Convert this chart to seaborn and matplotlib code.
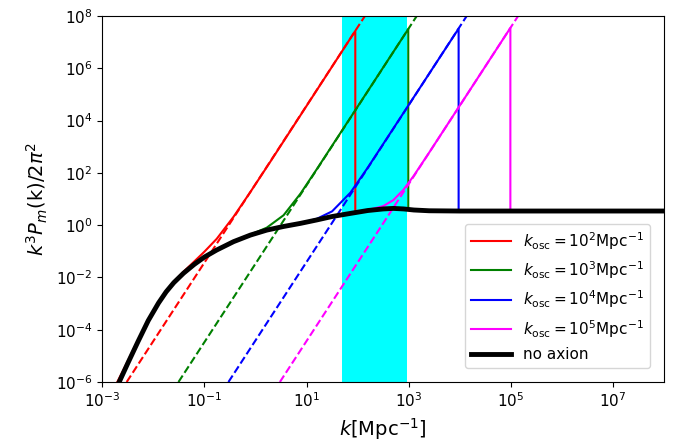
import matplotlib
matplotlib.use("Agg")
import matplotlib.pyplot as plt
import seaborn as sns

# wavenumbers [Mpc^-1] and dimensionless power for the standard (no axion) case
k_base = [1.78e-3, 2.14e-3, 3.16e-3, 5.01e-3, 7.94e-3, 1.26e-2, 1.78e-2, 2.51e-2,
          3.89e-2, 6.31e-2, 0.1, 0.174, 0.372, 0.794, 1.66, 3.55, 7.59, 15.8, 31.6,
          72.4, 158, 316, 501, 794, 1259, 2512, 1.0e4, 1.0e8]
p_base = [4.68e-7, 1.0e-6, 5.25e-6, 3.55e-5, 2.24e-4, 1.05e-3, 2.82e-3, 6.31e-3,
          1.45e-2, 3.16e-2, 6.03e-2, 0.112, 0.234, 0.417, 0.646, 0.891, 1.17, 1.58,
          2.14, 2.82, 3.63, 4.17, 4.37, 4.17, 3.80, 3.55, 3.47, 3.47]

# enhanced spectra for each oscillation scale (solid curves)
k_red = [1.78e-3, 3.16e-3, 5.01e-3, 7.94e-3, 1.26e-2, 1.78e-2, 2.51e-2, 3.89e-2,
         6.31e-2, 0.1, 0.174, 0.372, 0.794, 2.0, 90, 90]
p_red = [6.8e-7, 6.4e-6, 4.0e-5, 2.42e-4, 1.12e-3, 3.02e-3, 6.9e-3, 1.66e-2,
         4.07e-2, 9.7e-2, 0.30, 2.1, 18.6, 288, 2.7e7, 3.0]

k_green = k_base[:12] + [0.372, 0.794, 1.66, 3.55, 7.59, 15.8, 980, 980]
p_green = p_base[:12] + [0.236, 0.434, 0.80, 2.4, 16, 137, 3.16e7, 4.0]

k_blue = k_base[:16] + [7.59, 15.8, 31.6, 72.4, 158, 9500, 9500]
p_blue = p_base[:16] + [1.19, 1.74, 3.37, 17.6, 159, 3.3e7, 3.47]

k_mag = k_base[:20] + [158, 316, 501, 794, 1259, 2512, 9.8e4, 9.8e4]
p_mag = p_base[:20] + [3.78, 5.34, 9.05, 22.8, 78, 593, 3.5e7, 3.47]

# pure k^3 growth branches (dashed)
p_dash = [1.0e-6, 1.0e8]
k_red_dash = [3.0e-3, 139]
k_green_dash = [3.1e-2, 1439]
k_blue_dash = [0.295, 1.369e4]
k_mag_dash = [3.0, 1.39e5]

# k range where the band is shaded
band = (50, 930)

labels = [r"$k_{\rm osc}=10^2{\rm Mpc}^{-1}$",
          r"$k_{\rm osc}=10^3{\rm Mpc}^{-1}$",
          r"$k_{\rm osc}=10^4{\rm Mpc}^{-1}$",
          r"$k_{\rm osc}=10^5{\rm Mpc}^{-1}$"]
colors = ["red", "green", "blue", "magenta"]

fig = plt.figure(figsize=(6.83, 4.42), dpi=100)
ax = fig.add_axes([0.1498, 0.1357, 0.8224, 0.8281])
ax.set_xscale("log")
ax.set_yscale("log")

ax.axvspan(*band, color="cyan", lw=0, zorder=0)

solid = [(k_red, p_red), (k_green, p_green), (k_blue, p_blue), (k_mag, p_mag)]
dashed = [k_red_dash, k_green_dash, k_blue_dash, k_mag_dash]

for (ks, ps), kd, c, lab in zip(solid, dashed, colors, labels):
    sns.lineplot(x=ks, y=ps, color=c, lw=1.5, sort=False, estimator=None,
                 label=lab, ax=ax, zorder=2)
    sns.lineplot(x=kd, y=p_dash, color=c, lw=1.5, linestyle="--", sort=False,
                 estimator=None, ax=ax, zorder=2)

sns.lineplot(x=k_base, y=p_base, color="black", lw=3.5, sort=False, estimator=None,
             label="no axion", ax=ax, zorder=3)

ax.set_xlim(1e-3, 1e8)
ax.set_ylim(1e-6, 1e8)
ax.set_xticks([1e-3, 1e-1, 1e1, 1e3, 1e5, 1e7])
ax.set_yticks([1e-6, 1e-4, 1e-2, 1e0, 1e2, 1e4, 1e6, 1e8])
ax.xaxis.set_minor_locator(matplotlib.ticker.NullLocator())
ax.yaxis.set_minor_locator(matplotlib.ticker.NullLocator())
ax.tick_params(labelsize=11)

ax.set_xlabel(r"$k$[Mpc$^{-1}$]", fontsize=14)
ax.set_ylabel(r"$k^3P_m$(k)$/2\pi^2$", fontsize=14)

ax.legend(loc="lower right", fontsize=11, handlelength=2.6, borderaxespad=0.9)

fig.savefig("out.png", dpi=100)
